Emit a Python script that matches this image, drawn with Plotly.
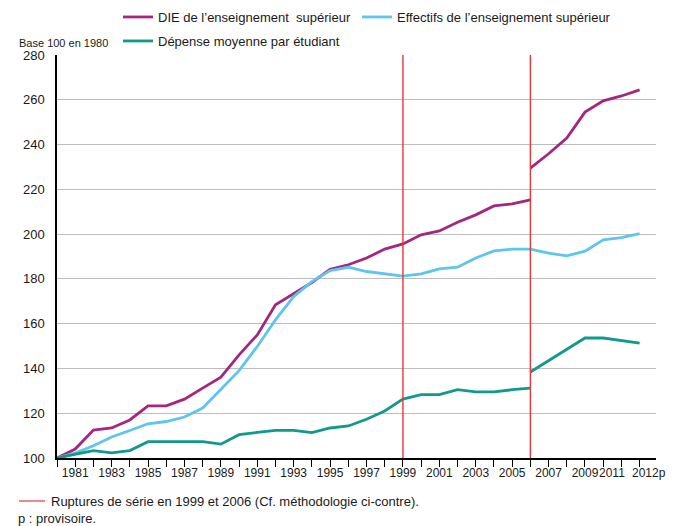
import plotly.graph_objects as go

# ---------------- data ----------------
YEARS = list(range(1980, 2013))
YEARS_PRE = list(range(1980, 2007))     # before 2006 break
YEARS_POST = list(range(2006, 2013))    # after 2006 break
BREAK_YEARS = [1999, 2006]

DIE_PRE = [100, 104, 112.5, 113.4, 117, 123.3, 123.3, 126.3, 131.2, 136.1,
           146.1, 155, 168.4, 173.6, 178.4, 184.3, 186.3, 189.3, 193.3, 195.6,
           199.7, 201.4, 205.3, 208.6, 212.6, 213.5, 215.3]
DIE_POST = [229.5, 235.9, 242.9, 254.5, 259.5, 261.7, 264.4]

EFFECTIFS = [100, 102.2, 105.5, 109.4, 112.3, 115.3, 116.3, 118.3, 122.3, 130.5,
             139, 149.8, 161.7, 172.1, 178.8, 183.7, 185.2, 183.3, 182.2, 181.2,
             182.2, 184.5, 185.2, 189.3, 192.5, 193.3, 193.3, 191.5, 190.3, 192.4,
             197.4, 198.4, 200.2]

DEPENSE_PRE = [100, 101.7, 103.3, 102.3, 103.3, 107.3, 107.3, 107.3, 107.3, 106.2,
               110.4, 111.4, 112.3, 112.3, 111.3, 113.4, 114.3, 117.3, 121, 126.3,
               128.3, 128.3, 130.5, 129.5, 129.5, 130.5, 131.2]
DEPENSE_POST = [138.4, 143.4, 148.5, 153.6, 153.6, 152.4, 151.3]

NAMES = ["DIE de l’enseignement\u00a0 supérieur",
         "Effectifs de l’enseignement supérieur",
         "Dépense moyenne par étudiant"]

# odd years labelled on the axis; the last two labels are placed by hand (tight)
X_TICK_LABELS = {y: (str(y) if (y % 2 == 1 and y < 2011) else "") for y in YEARS}
END_LABELS = [(2011, "2011"), (2012, "2012p")]
Y_TICKS = list(range(100, 281, 20))

# ---------------- style ----------------
PURPLE = "#a5267f"
BLUE = "#5ec5ee"
TEAL = "#12998d"
RED = "#e8363c"
FONT = "Liberation Sans, Arial, sans-serif"
TXT = "#1a1a1a"
XFS = 12

OFF = 8                      # page body margin
W, H = 674 - OFF, 526 - OFF
L, R, T, B = 49, 18, 47, 68
PW, PH = W - L - R, H - T - B


def px(x):                   # x in window pixels -> paper
    return (x - OFF - L) / PW


def py(y):                   # y in window pixels -> paper
    return (H - B - (y - OFF)) / PH


def join(xa, ya, xb, yb):
    return xa + [None] + xb, ya + [None] + yb


fig = go.Figure()
x1, y1 = join(YEARS_PRE, DIE_PRE, YEARS_POST, DIE_POST)
fig.add_trace(go.Scatter(x=x1, y=y1, mode="lines", name=NAMES[0],
                         line=dict(color=PURPLE, width=2.8), legend="legend"))
fig.add_trace(go.Scatter(x=YEARS, y=EFFECTIFS, mode="lines", name=NAMES[1],
                         line=dict(color=BLUE, width=2.8), legend="legend2"))
x3, y3 = join(YEARS_PRE, DEPENSE_PRE, YEARS_POST, DEPENSE_POST)
fig.add_trace(go.Scatter(x=x3, y=y3, mode="lines", name=NAMES[2],
                         line=dict(color=TEAL, width=2.8), legend="legend3"))

shapes = []
for by in BREAK_YEARS:
    shapes.append(dict(type="line", xref="x", yref="paper", x0=by, x1=by, y0=0, y1=1,
                       line=dict(color=RED, width=1.4), layer="above"))
# footnote red sample
shapes.append(dict(type="line", xref="paper", yref="paper", x0=px(19), x1=px(45),
                   y0=py(501), y1=py(501), line=dict(color=RED, width=1.2)))

annotations = [
    dict(text="Base 100 en 1980", xref="paper", yref="paper", x=px(17), y=py(43),
         xanchor="left", yanchor="middle", showarrow=False,
         font=dict(family=FONT, size=11, color=TXT)),
    dict(text="Ruptures de série en 1999 et 2006 (Cf. méthodologie ci-contre).",
         xref="paper", yref="paper", x=px(49), y=py(501), xanchor="left",
         yanchor="middle", showarrow=False, font=dict(family=FONT, size=13, color=TXT)),
    dict(text="p : provisoire.", xref="paper", yref="paper", x=px(16), y=py(518),
         xanchor="left", yanchor="middle", showarrow=False,
         font=dict(family=FONT, size=13, color=TXT)),
]
# last two axis labels (tight spacing as in the original)
for (yr, lab), (anchor, shift) in zip(END_LABELS, [("right", 6), ("left", -10)]):
    annotations.append(dict(text=lab, xref="x", yref="paper", x=yr, y=py(473),
                            xanchor=anchor, yanchor="middle", xshift=shift,
                            showarrow=False, font=dict(family=FONT, size=XFS, color=TXT)))


def leg(xpix, ypix):
    return dict(orientation="h", x=px(xpix), y=py(ypix), xanchor="left", yanchor="middle",
                bgcolor="rgba(0,0,0,0)", borderwidth=0,
                font=dict(family=FONT, size=13, color=TXT))


fig.update_layout(
    width=W, height=H,
    margin=dict(l=L, r=R, t=T, b=B, autoexpand=False),
    paper_bgcolor="white", plot_bgcolor="white",
    font=dict(family=FONT, size=13, color=TXT),
    shapes=shapes, annotations=annotations,
    showlegend=True,
    legend=leg(118, 17),
    legend2=leg(357, 17),
    legend3=leg(118, 41),
    xaxis=dict(range=[1980, 2012.9], tickmode="array", tickvals=YEARS,
               ticktext=[X_TICK_LABELS[y] for y in YEARS], showgrid=False, tickangle=0,
               ticks="outside", ticklen=7, tickwidth=1.3, tickcolor="black",
               ticklabelstandoff=-4,
               showline=True, linecolor="black", linewidth=1.5, zeroline=False,
               automargin=False,
               tickfont=dict(family=FONT, size=XFS, color=TXT), fixedrange=True),
    yaxis=dict(range=[100, 280], tickmode="array", tickvals=Y_TICKS,
               showgrid=True, gridcolor="#bdbdbd", gridwidth=1.3,
               ticks="outside", ticklen=8, tickcolor="rgba(0,0,0,0)",
               showline=True, linecolor="black", linewidth=1.5, zeroline=False,
               automargin=False,
               tickfont=dict(family=FONT, size=13, color=TXT), fixedrange=True),
)

fig.write_html("out.html")
